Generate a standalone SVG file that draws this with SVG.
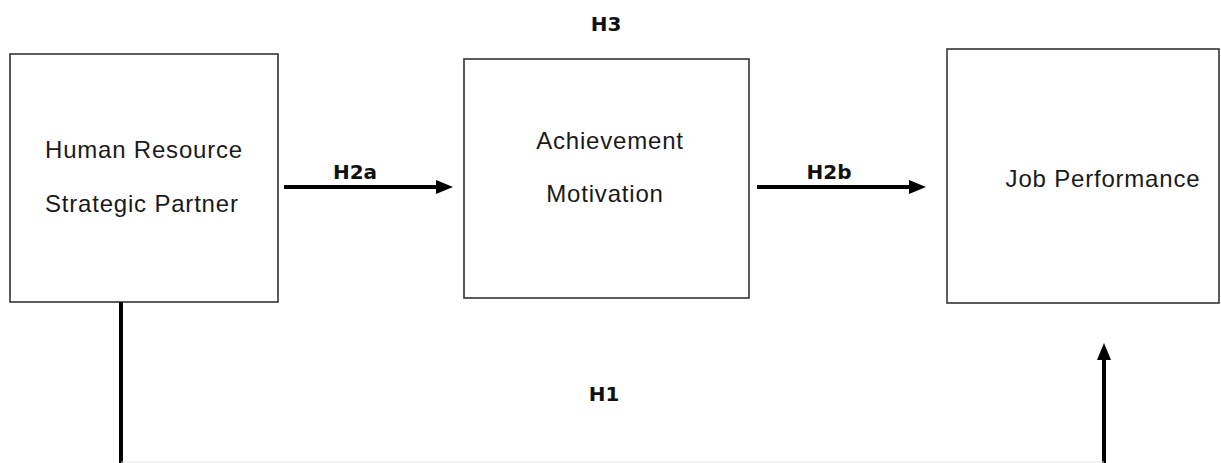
<svg xmlns="http://www.w3.org/2000/svg" width="1221" height="463" viewBox="0 0 1221 463">
<style>
.box{fill:#fff;stroke:#333;stroke-width:1.6}
.t{font-family:"Liberation Sans",Arial,sans-serif;font-size:24px;fill:#1a1a1a;letter-spacing:0.8px}
.h{font-family:"DejaVu Sans",Verdana,sans-serif;font-weight:bold;font-size:20px;fill:#111}
.c{stroke:#000;stroke-width:4;fill:none}
</style>
<defs>
<marker id="ah" markerWidth="4.25" markerHeight="3.5" refX="0.5" refY="1.75" orient="auto" markerUnits="strokeWidth">
<path d="M0,0 L4.25,1.75 L0,3.5 Z" fill="#000"/>
</marker>
</defs>
<rect width="1221" height="463" fill="#fff"/>
<g id="n1">
<rect class="box" x="10" y="54" width="268" height="248"/>
<text class="t" x="45" y="158">Human Resource</text>
<text class="t" x="45" y="212">Strategic Partner</text>
</g>
<g id="n2">
<rect class="box" x="464" y="59" width="285" height="239"/>
<text class="t" x="610" y="149" text-anchor="middle">Achievement</text>
<text class="t" x="605" y="202" text-anchor="middle">Motivation</text>
</g>
<g id="n3">
<rect class="box" x="947" y="49" width="272" height="254"/>
<text class="t" x="1103" y="187" text-anchor="middle">Job Performance</text>
</g>
<g id="connectors">
<line class="c" x1="284" y1="187" x2="438" y2="187" marker-end="url(#ah)"/>
<line class="c" x1="757" y1="187" x2="911" y2="187" marker-end="url(#ah)"/>
<path class="c" d="M121,302 V463"/>
<path class="c" d="M1104,463 V358" marker-end="url(#ah)"/>
<line x1="121" y1="462" x2="1104" y2="462" stroke="#e6e6e6" stroke-width="1"/>
</g>
<g id="labels">
<text class="h" x="355" y="179" text-anchor="middle">H2a</text>
<text class="h" x="829" y="179" text-anchor="middle">H2b</text>
<text class="h" x="606" y="31" text-anchor="middle">H3</text>
<text class="h" x="604" y="401" text-anchor="middle">H1</text>
</g>
</svg>
